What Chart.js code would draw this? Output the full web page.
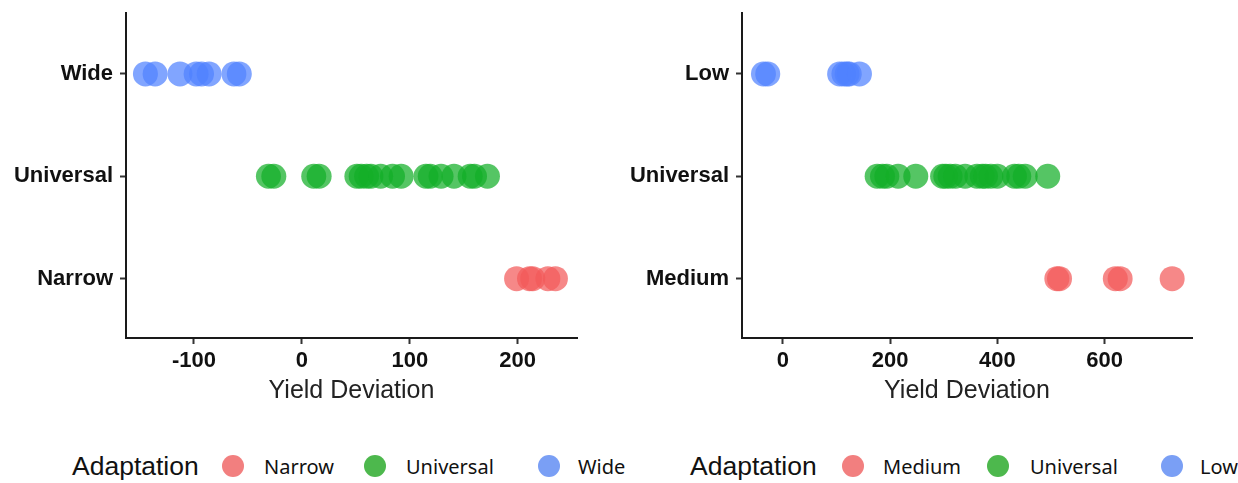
<!DOCTYPE html>
<html>
<head>
<meta charset="utf-8">
<script src="https://cdn.jsdelivr.net/npm/chart.js@4/dist/chart.umd.min.js"></script>
<style>
  body { margin: 0; background: #fff; width: 1238px; height: 483px; position: relative; overflow: hidden; font-family: "Liberation Sans", Arial, sans-serif; }
  #leftChart { position: absolute; left: 0; top: 0; }
  #rightChart { position: absolute; left: 620px; top: 0; }
  .lg { position: absolute; top: 466px; transform: translateY(-50%); white-space: nowrap; color: #111; }
  .lg.title { font-size: 26.5px; }
  .lg.item { font-size: 20px; font-family: "Noto Sans", sans-serif; }
  .dot { position: absolute; top: 466px; width: 22px; height: 22px; margin: -11px 0 0 -11px; border-radius: 50%; }
</style>
</head>
<body>
<canvas id="leftChart" width="620" height="408"></canvas>
<canvas id="rightChart" width="618" height="408"></canvas>

<div class="lg title" style="left:72px">Adaptation</div>
<div class="dot" style="left:233px;background:#f27f7f"></div>
<div class="lg item" style="left:264px">Narrow</div>
<div class="dot" style="left:375px;background:#4db84d"></div>
<div class="lg item" style="left:406px">Universal</div>
<div class="dot" style="left:549px;background:#7a9ff5"></div>
<div class="lg item" style="left:578px">Wide</div>

<div class="lg title" style="left:690px">Adaptation</div>
<div class="dot" style="left:853px;background:#f27f7f"></div>
<div class="lg item" style="left:883px">Medium</div>
<div class="dot" style="left:998px;background:#4db84d"></div>
<div class="lg item" style="left:1030px">Universal</div>
<div class="dot" style="left:1172px;background:#7a9ff5"></div>
<div class="lg item" style="left:1200px">Low</div>

<script>
    // categories, bottom to top on the y axis
    const leftCats = ['Narrow', 'Universal', 'Wide'];
    const rightCats = ['Medium', 'Universal', 'Low'];

    // yield deviation values
    const leftNarrow = [199, 211, 214, 228, 235];
    const leftUniversal = [-31, -26, 11, 16, 51, 55, 60, 64, 73, 84, 92, 115, 119, 129, 141, 156, 160, 172];
    const leftWide = [-145, -136, -113, -98, -93, -86, -63, -58];

    const rightMedium = [511, 516, 620, 629, 726];
    const rightUniversal = [176, 186, 194, 215, 248, 298, 304, 312, 322, 340, 362, 372, 378, 388, 400, 432, 440, 452, 494];
    const rightLow = [-36, -28, 106, 114, 120, 124, 143];

    const leftTicks = [-100, 0, 100, 200];
    const rightTicks = [0, 200, 400, 600];

    const colors = ['rgba(242, 90, 90, 0.72)', 'rgba(20, 175, 40, 0.72)', 'rgba(80, 130, 255, 0.72)'];

    function toPoints(values, yIndex) {
        return values.map(v => ({ x: v, y: yIndex }));
    }

    function makeChart(id, cats, series, xMin, xMax, xTicks, yWidth, padRight) {
        let ctx = document.getElementById(id).getContext('2d');
        return new Chart(ctx, {
            type: 'scatter',
            data: {
                datasets: series.map((vals, i) => ({
                    label: cats[i],
                    data: toPoints(vals, i),
                    backgroundColor: colors[i],
                    borderWidth: 0,
                    pointRadius: 12.5,
                    pointHoverRadius: 12.5
                }))
            },
            options: {
                responsive: false,
                animation: false,
                events: [],
                layout: { padding: { top: 10, right: padRight, left: 0, bottom: 0 } },
                plugins: { legend: { display: false }, tooltip: { enabled: false } },
                scales: {
                    x: {
                        type: 'linear',
                        min: xMin,
                        max: xMax,
                        afterBuildTicks: s => { s.ticks = xTicks.map(v => ({ value: v })); },
                        afterFit: s => { s.height = 70; s.paddingLeft = 0; s.paddingRight = 0; },
                        border: { display: true, color: '#1a1a1a', width: 2 },
                        grid: { drawOnChartArea: false, drawTicks: true, tickLength: 6, color: '#333', tickWidth: 2 },
                        ticks: { color: '#111', padding: 4, font: { family: 'Liberation Sans', size: 22, weight: 'bold' } },
                        title: {
                            display: true,
                            text: 'Yield Deviation',
                            color: '#222',
                            padding: { top: 0, bottom: 2 },
                            font: { family: 'Liberation Sans', size: 25 }
                        }
                    },
                    y: {
                        type: 'linear',
                        min: -0.58,
                        max: 2.6,
                        afterBuildTicks: s => { s.ticks = [0, 1, 2].map(v => ({ value: v })); },
                        afterFit: s => { s.width = yWidth; s.paddingTop = 0; s.paddingBottom = 0; },
                        border: { display: true, color: '#1a1a1a', width: 2 },
                        grid: { drawOnChartArea: false, drawTicks: true, tickLength: 6, color: '#333', tickWidth: 2 },
                        ticks: {
                            color: '#111',
                            padding: 7,
                            font: { family: 'Liberation Sans', size: 22, weight: 'bold' },
                            callback: v => cats[v]
                        }
                    }
                }
            }
        });
    }

    makeChart('leftChart', leftCats, [leftNarrow, leftUniversal, leftWide], -163, 255, leftTicks, 126, 43);
    makeChart('rightChart', rightCats, [rightMedium, rightUniversal, rightLow], -76, 763, rightTicks, 122, 46);
</script>
</body>
</html>
